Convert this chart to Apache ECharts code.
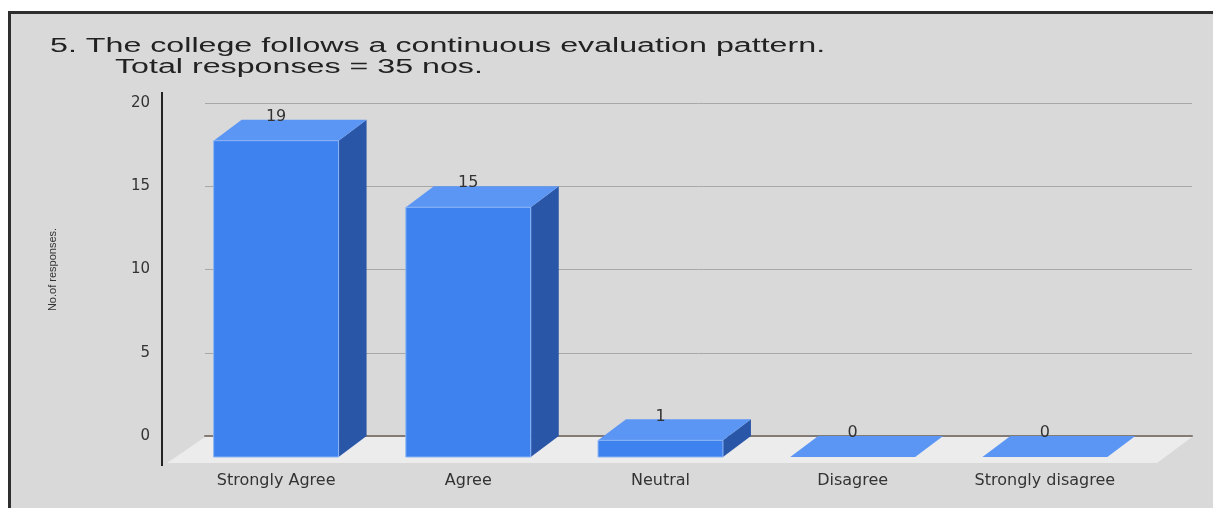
<!DOCTYPE html>
<html>
<head>
<meta charset="utf-8">
<title>Continuous evaluation pattern</title>
<script src="https://cdn.jsdelivr.net/npm/echarts@6/dist/echarts.min.js"></script>
<style>
	html, body { margin: 0; padding: 0; background: #fff; }
	#frame {
		position: absolute; left: 8px; top: 11px; right: 0; bottom: 0;
		border-top: 3px solid #2e2e2e; border-left: 3px solid #2e2e2e;
		background: #d9d9d9;
	}
	#chart { position: absolute; left: 0; top: 0; width: 1213px; height: 508px; }
</style>
</head>
<body>
<div id="frame"></div>
<div id="chart"></div>
<script>
// data
var categories = ['Strongly Agree', 'Agree', 'Neutral', 'Disagree', 'Strongly disagree'];
var responses = [19, 15, 1, 0, 0];
var yMin = 0, yMax = 20, yStep = 5;
var titleLines = ['5. The college follows a continuous evaluation pattern.', 'Total responses = 35 nos.'];

var FONT = 'DejaVu Sans';
// depth of the fake 3d box
var DX = 28, DY = -21;

function renderBar(params, api) {
	var idx = api.value(0), v = api.value(1);
	var base = api.coord([idx, 0]);
	var top = api.coord([idx, v]);
	var w = api.size([1, 0])[0] * 0.65;
	var l = base[0] - w / 2, r = base[0] + w / 2;
	var children = [];

	//地板
	if (params.dataIndex === 0) {
		var cs = params.coordSys;
		var b = cs.y + cs.height;
		children.push({
			type: 'polygon',
			shape: { points: [[cs.x - 13, b + 6], [cs.x + cs.width + 16, b + 6], [cs.x + cs.width + 51, b - 20], [cs.x + 25, b - 20]] },
			style: { fill: '#ececec' }
		});
	}

	children.push({
		type: 'polygon',
		shape: { points: [[r, top[1]], [r + DX, top[1] + DY], [r + DX, base[1] + DY], [r, base[1]]] },
		style: { fill: '#2a56a8' }
	});
	children.push({
		type: 'polygon',
		shape: { points: [[l, top[1]], [l + DX, top[1] + DY], [r + DX, top[1] + DY], [r, top[1]]] },
		style: { fill: '#5b96f4' }
	});
	if (v > 0) {
		children.push({
			type: 'rect',
			shape: { x: l, y: top[1], width: w, height: base[1] - top[1] },
			style: { fill: '#3e82ef', stroke: '#8db5f6', lineWidth: 1 }
		});
	}
	children.push({
		type: 'text',
		style: {
			text: String(v), x: base[0], y: top[1] + DY - 3,
			align: 'center', verticalAlign: 'middle',
			fill: '#333', font: '16px "' + FONT + '"'
		}
	});
	return { type: 'group', children: children };
}

var chart = echarts.init(document.getElementById('chart'));
var option = {
	backgroundColor: 'transparent',
	animation: false,
	grid: [
		// front plane
		{ left: 180, right: 72, top: 124, bottom: 51 },
		// back plane (ticks + grid lines)
		{ left: 205, right: 21, top: 103, bottom: 72 }
	],
	xAxis: [{
		type: 'category', gridIndex: 0, data: categories,
		axisLine: { show: false }, axisTick: { show: false },
		axisLabel: { interval: 0, margin: 16, fontFamily: FONT, fontSize: 16, color: '#333' }
	}, {
		type: 'value', gridIndex: 1, min: 0, max: 1,
		axisLine: { show: true, lineStyle: { color: '#837b75', width: 2 } },
		axisTick: { show: false }, axisLabel: { show: false }, splitLine: { show: false }
	}],
	yAxis: [{
		type: 'value', gridIndex: 0, min: yMin, max: yMax, interval: yStep, show: false
	}, {
		type: 'value', gridIndex: 1, min: yMin, max: yMax, interval: yStep,
		name: 'No.of responses.', nameLocation: 'middle', nameGap: 147, nameRotate: 90,
		nameTextStyle: { fontFamily: 'Liberation Sans', fontSize: 11, color: '#333' },
		axisLine: { show: false }, axisTick: { show: false },
		axisLabel: { margin: 55, fontFamily: FONT, fontSize: 15, color: '#333' },
		splitLine: { lineStyle: { color: '#a8a8a8', width: 1 } }
	}],
	series: [{
		type: 'custom',
		xAxisIndex: 0, yAxisIndex: 0,
		renderItem: renderBar,
		data: responses.map(function (v, i) { return [i, v]; })
	}],
	graphic: [{
		type: 'line',
		shape: { x1: 162, y1: 92, x2: 162, y2: 466 },
		style: { stroke: '#222', lineWidth: 2 }
	}, {
		// 标题 (stretched like the original)
		type: 'text', x: 50, y: 46, scaleX: 1.61,
		style: { text: titleLines[0], font: '20px "Liberation Sans"', fill: '#222', verticalAlign: 'middle' }
	}, {
		type: 'text', x: 115, y: 67, scaleX: 1.61,
		style: { text: titleLines[1], font: '20px "Liberation Sans"', fill: '#222', verticalAlign: 'middle' }
	}]
};
chart.setOption(option);
window.addEventListener('resize', chart.resize);
</script>
</body>
</html>
